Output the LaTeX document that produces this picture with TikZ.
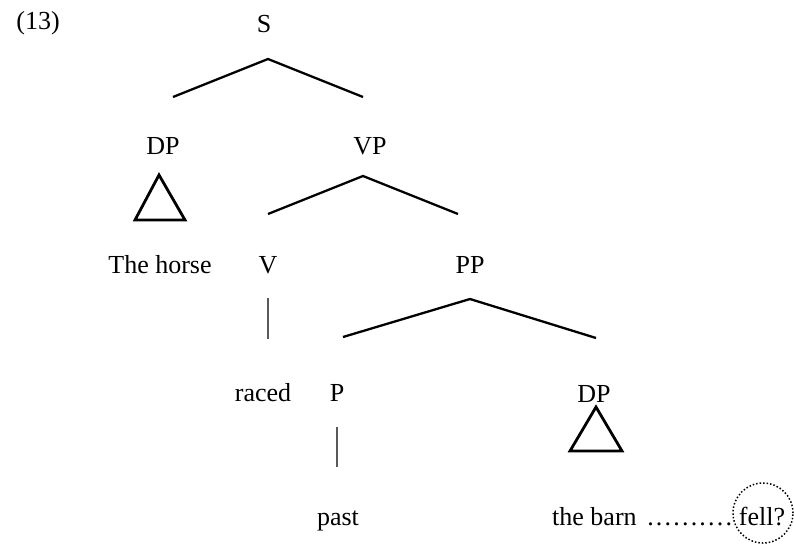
\documentclass[tikz,border=0pt]{standalone}
\usepackage{fontspec}
\setmainfont{Liberation Serif}
\usetikzlibrary{calc}

\begin{document}
\begin{tikzpicture}[x=1pt, y=-1pt,
	lbl/.style={anchor=base, inner sep=0pt, font=\fontsize{26}{30}\selectfont},
	branch/.style={line width=2.3pt, line join=miter},
	stem/.style={line width=2pt, gray!70!black},
	roof/.style={line width=2.8pt, line join=miter}]
	\useasboundingbox (0,0) rectangle (794,544);
	% labels
	\node[lbl] (ex) at (38,29) {(13)};
	\node[lbl] (S) at (264,32) {S};
	\node[lbl] (DPa) at (163,154) {DP};
	\node[lbl] (VP) at (370,154) {VP};
	\node[lbl] (horse) at (160,273) {The horse};
	\node[lbl] (V) at (268,273) {V};
	\node[lbl] (PP) at (470,273) {PP};
	\node[lbl] (raced) at (263,401) {raced};
	\node[lbl] (P) at (337,401) {P};
	\node[lbl] (DPb) at (594,402) {DP};
	\node[lbl] (past) at (338,525) {past};
	\node[lbl, anchor=base west] (barn) at (552,525) {the barn};
	\node[lbl, anchor=base west] (dots) at (646,525) {\hbox to 87pt{\xleaders\hbox to 8.7pt{\hss.\hss}\hfill}};
	\node[lbl] (fell) at (762,525) {fell?};
	\node[draw, dotted, line width=1.5pt, circle, minimum size=60pt, inner sep=0pt] (ring) at (763,513) {};
	% branch points
	\coordinate (S-top) at (268,59);  \coordinate (S-l) at (173,97);  \coordinate (S-r) at (363,97);
	\coordinate (VP-top) at (363,176); \coordinate (VP-l) at (268,214); \coordinate (VP-r) at (458,214);
	\coordinate (PP-top) at (470,299); \coordinate (PP-l) at (343,337); \coordinate (PP-r) at (596,338);
	\coordinate (V-a) at (268,298);  \coordinate (V-b) at (268,339);
	\coordinate (P-a) at (337,427);  \coordinate (P-b) at (337,467);
	\coordinate (DPa-top) at (159,175); \coordinate (DPa-l) at (135,220); \coordinate (DPa-r) at (185,220);
	\coordinate (DPb-top) at (596,407); \coordinate (DPb-l) at (570,451); \coordinate (DPb-r) at (622,451);
	% lines
	\draw[branch] (S-l) -- (S-top) -- (S-r);
	\draw[branch] (VP-l) -- (VP-top) -- (VP-r);
	\draw[branch] (PP-l) -- (PP-top) -- (PP-r);
	\draw[stem] (V-a) -- (V-b);
	\draw[stem] (P-a) -- (P-b);
	\draw[roof] (DPa-top) -- (DPa-r) -- (DPa-l) -- cycle;
	\draw[roof] (DPb-top) -- (DPb-r) -- (DPb-l) -- cycle;
\end{tikzpicture}
\end{document}
